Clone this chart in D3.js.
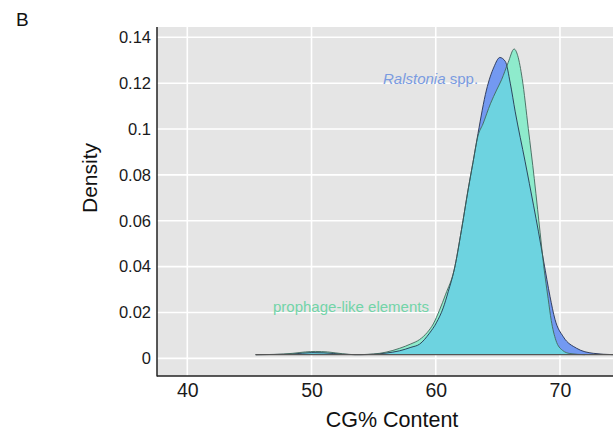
<!DOCTYPE html>
<html>
<head>
<meta charset="utf-8">
<script src="https://cdn.jsdelivr.net/npm/d3@7"></script>
<style>
  body { margin: 0; background: #fff; }
  text { font-family: "Liberation Sans", Arial, sans-serif; }
</style>
</head>
<body>
<svg id="chart" width="613" height="436"></svg>
<script>
// density curves: [CG%, density]
var ralstonia = [
  [45.5, 0.0016], [47, 0.0017], [48.5, 0.0019], [50, 0.0025], [51, 0.0024],
  [52.5, 0.0018], [54, 0.0016], [55, 0.0018], [56, 0.0023], [57.1, 0.0033],
  [58, 0.0048], [58.7, 0.0062], [59.5, 0.011], [60.05, 0.0155], [60.6, 0.022],
  [61.0, 0.029], [61.48, 0.0385], [62.07, 0.056], [62.6, 0.0734], [63.0, 0.0855],
  [63.4, 0.098], [64.08, 0.117], [64.68, 0.127], [65.16, 0.1312], [65.6, 0.1295],
  [66.0, 0.12], [66.4, 0.1075], [67.2, 0.0857], [67.87, 0.0668], [68.27, 0.0552],
  [68.7, 0.042], [69.2, 0.027], [69.6, 0.017], [70.27, 0.0094], [71.34, 0.0044],
  [72.68, 0.0022], [74.3, 0.0016]
];
var prophage = [
  [45.5, 0.0016], [47, 0.0017], [48.5, 0.0022], [49.5, 0.0028], [50.3, 0.003],
  [51.3, 0.0028], [52.5, 0.002], [53.5, 0.0016], [55, 0.0019], [56, 0.0027],
  [57.1, 0.0044], [58, 0.0063], [58.7, 0.0082], [59.3, 0.0112], [59.8, 0.015],
  [60.3, 0.021], [60.8, 0.028], [61.48, 0.0385], [62.07, 0.056], [62.6, 0.0734],
  [63.0, 0.0855], [63.4, 0.097], [63.8, 0.1022], [64.4, 0.111], [64.9, 0.117],
  [65.3, 0.1215], [65.83, 0.129], [66.31, 0.1349], [66.6, 0.132], [66.96, 0.122],
  [67.45, 0.1003], [67.93, 0.0785], [68.2, 0.065], [68.4, 0.055], [68.7, 0.04],
  [69.05, 0.026], [69.3, 0.0165], [69.67, 0.0079], [70.2, 0.0035], [70.8, 0.0021],
  [72, 0.0016]
];
var baseDensity = 0.0016;

var xTicks = [40, 50, 60, 70];
var yTicks = [0, 0.02, 0.04, 0.06, 0.08, 0.1, 0.12, 0.14];

var svg = d3.select("#chart");
var panelLeft = 157, panelTop = 27, panelRight = 613, panelBottom = 376;

var x = d3.scaleLinear().domain([37.56, 74.27]).range([panelLeft, panelRight]);
var y = d3.scaleLinear().domain([-0.0077, 0.1445]).range([panelBottom, panelTop]);

// panel
svg.append("rect").attr("x", panelLeft).attr("y", panelTop)
    .attr("width", panelRight - panelLeft).attr("height", panelBottom - panelTop).attr("fill", "#e5e5e5");

svg.selectAll(".vgrid").data(xTicks).enter().append("line")
    .attr("x1", function(d) { return x(d); }).attr("x2", function(d) { return x(d); })
    .attr("y1", panelTop).attr("y2", panelBottom)
    .attr("stroke", "#fff").attr("stroke-width", 1.6);
svg.selectAll(".hgrid").data(yTicks).enter().append("line")
    .attr("x1", panelLeft).attr("x2", panelRight)
    .attr("y1", function(d) { return y(d); }).attr("y2", function(d) { return y(d); })
    .attr("stroke", "#fff").attr("stroke-width", 1.6);

var area = d3.area().curve(d3.curveMonotoneX)
    .x(function(d) { return x(d[0]); })
    .y0(y(baseDensity))
    .y1(function(d) { return y(d[1]); });
var line = d3.line().curve(d3.curveMonotoneX)
    .x(function(d) { return x(d[0]); })
    .y(function(d) { return y(d[1]); });

svg.append("clipPath").attr("id", "blueClip")
    .append("path").attr("d", area(ralstonia));

svg.append("path").attr("d", area(ralstonia)).attr("fill", "#7399f1");
svg.append("path").attr("d", area(prophage)).attr("fill", "#8eebcc");
svg.append("path").attr("d", area(prophage)).attr("fill", "#6dd3e0")
    .attr("clip-path", "url(#blueClip)");

svg.append("path").attr("d", line(ralstonia)).attr("fill", "none")
    .attr("stroke", "#1e2a48").attr("stroke-opacity", 0.85).attr("stroke-width", 1);
svg.append("path").attr("d", line(prophage)).attr("fill", "none")
    .attr("stroke", "#3c5f55").attr("stroke-opacity", 0.85).attr("stroke-width", 1);
svg.append("line").attr("x1", x(45.5)).attr("x2", x(74.3))
    .attr("y1", y(baseDensity)).attr("y2", y(baseDensity))
    .attr("stroke", "#555").attr("stroke-width", 1.2);

// axes
var yAxis = d3.axisLeft(y).tickValues(yTicks).tickSize(0).tickPadding(6)
    .tickFormat(d3.format("~g"));
var gy = svg.append("g").attr("transform", "translate(" + panelLeft + ",0)").call(yAxis);
gy.select(".domain").remove();
gy.selectAll("text").attr("font-size", 16.5).attr("fill", "#1a1a1a")
    .style("font-family", "Liberation Sans, Arial, sans-serif");

var xAxis = d3.axisBottom(x).tickValues(xTicks).tickSize(0).tickPadding(7);
var gx = svg.append("g").attr("transform", "translate(0," + panelBottom + ")").call(xAxis);
gx.select(".domain").remove();
gx.selectAll("text").attr("font-size", 19.5).attr("fill", "#1a1a1a")
    .style("font-family", "Liberation Sans, Arial, sans-serif");

svg.append("line").attr("x1", panelLeft).attr("x2", panelLeft).attr("y1", panelTop).attr("y2", panelBottom + 0.5)
    .attr("stroke", "#222").attr("stroke-width", 1.5);
svg.append("line").attr("x1", panelLeft).attr("x2", panelRight).attr("y1", panelBottom).attr("y2", panelBottom)
    .attr("stroke", "#222").attr("stroke-width", 1.5);

// titles and labels
svg.append("text").attr("x", 16).attr("y", 26).attr("font-size", 19).attr("fill", "#111").text("B");
svg.append("text").attr("transform", "translate(97,178) rotate(-90)")
    .attr("text-anchor", "middle").attr("font-size", 21).attr("fill", "#111").text("Density");
svg.append("text").attr("x", 392).attr("y", 427)
    .attr("text-anchor", "middle").attr("font-size", 21.5).attr("fill", "#111").text("CG% Content");

var lab = svg.append("text").attr("x", 383).attr("y", 84).attr("font-size", 15).attr("fill", "#7a9be0");
lab.append("tspan").attr("font-style", "italic").text("Ralstonia");
lab.append("tspan").text(" spp.");
svg.append("text").attr("x", 273).attr("y", 311.5).attr("font-size", 15).attr("fill", "#72d4a8")
    .text("prophage-like elements");
</script>
</body>
</html>
